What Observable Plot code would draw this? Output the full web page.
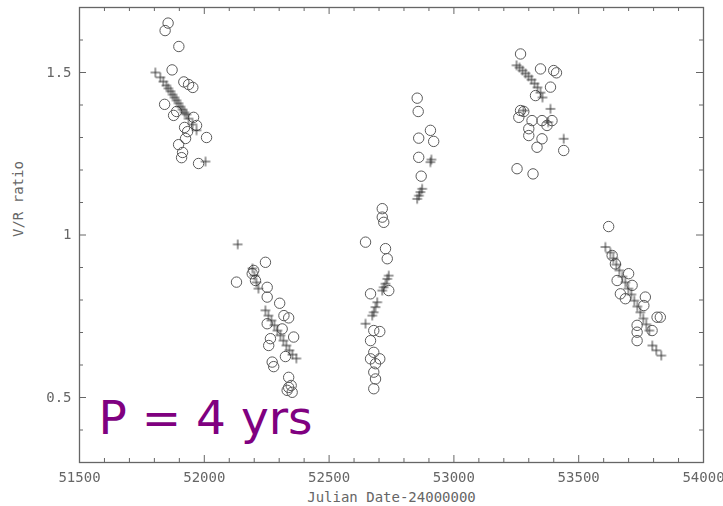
<!DOCTYPE html>
<html>
<head>
<meta charset="utf-8">
<script src="https://cdn.jsdelivr.net/npm/d3@7"></script>
<script src="https://cdn.jsdelivr.net/npm/@observablehq/plot@0.6"></script>
<style>
  body { margin: 0; background: #fff; }
  #chart svg { display: block; }
  #chart svg g[aria-label="dot"],
  #chart svg g[aria-label="rule"],
  #chart svg g[aria-label="frame"],
  #chart svg g[aria-label^="x-axis"],
  #chart svg g[aria-label^="y-axis"] { filter: blur(0.35px); }
</style>
</head>
<body>
<div id="chart"></div>
<script>
// V/R ratio measurements: open circles
const circleJD = [
  51855, 51843, 51898, 51871, 51918, 51954, 51937, 51841, 51877, 51889, 51957, 51921, 51969,
  51925, 52009, 51897, 51913, 51909, 51977, 51933,
  52245, 52129, 52198, 52192, 52205, 52252, 52252, 52302, 52319, 52338, 52252, 52312,
  52358, 52265, 52258, 52325, 52272, 52278, 52338, 52348, 52332, 52352, 52338,
  52853, 52857, 52906, 52859, 52919, 52859, 52869, 52713, 52713, 52719, 52646, 52726,
  52733, 52739, 52666, 52679, 52703, 52666, 52679, 52703, 52666, 52686, 52679, 52686, 52679,
  53267, 53347, 53400, 53411, 53387, 53327, 53267, 53280, 53260, 53313, 53353, 53393,
  53373, 53300, 53300, 53353, 53333, 53440, 53253, 53317,
  53620, 53634, 53647, 53700, 53654, 53714, 53667, 53767, 53687, 53761, 53814, 53827,
  53734, 53794, 53734, 53734
];
const circleVR = [
  1.652, 1.629, 1.580, 1.508, 1.471, 1.454, 1.463, 1.402, 1.368, 1.380, 1.362, 1.331, 1.337,
  1.297, 1.300, 1.278, 1.254, 1.238, 1.220, 1.318,
  0.916, 0.855, 0.891, 0.881, 0.860, 0.839, 0.809, 0.790, 0.752, 0.745, 0.727, 0.711,
  0.686, 0.681, 0.660, 0.626, 0.609, 0.595, 0.562, 0.537, 0.522, 0.516, 0.531,
  1.421, 1.380, 1.322, 1.298, 1.288, 1.239, 1.181, 1.081, 1.055, 1.039, 0.978, 0.958,
  0.927, 0.829, 0.819, 0.706, 0.703, 0.675, 0.639, 0.619, 0.619, 0.604, 0.578, 0.557, 0.527,
  1.557, 1.511, 1.506, 1.499, 1.455, 1.429, 1.383, 1.380, 1.362, 1.352, 1.352, 1.352,
  1.337, 1.327, 1.306, 1.296, 1.270, 1.260, 1.204, 1.188,
  1.026, 0.937, 0.911, 0.881, 0.860, 0.845, 0.819, 0.809, 0.804, 0.783, 0.747, 0.747,
  0.722, 0.706, 0.701, 0.675
];

// V/R ratio measurements: plus signs
const plusJD = [
  51804, 51824, 51836, 51848, 51856, 51865, 51873, 51881, 51889, 51897, 51905, 51913, 51921,
  51929, 51937, 51953, 51969, 52005,
  52134, 52193, 52201, 52209, 52217, 52245, 52257, 52269, 52281, 52293, 52305, 52317, 52329,
  52341, 52353, 52369,
  52906, 52910, 52873, 52866, 52860, 52853,
  52739, 52733, 52726, 52719, 52713, 52693, 52686, 52679, 52673, 52646,
  53251, 53263, 53275, 53287, 53299, 53311, 53323, 53335, 53347, 53355, 53387, 53440, 53279, 53378,
  53607, 53627, 53639, 53651, 53663, 53675, 53687, 53699, 53711, 53723, 53735, 53747, 53759,
  53771, 53783, 53795, 53811, 53831
];
const plusVR = [
  1.500, 1.485, 1.472, 1.460, 1.451, 1.442, 1.432, 1.423, 1.414, 1.405, 1.395, 1.386, 1.377,
  1.371, 1.358, 1.340, 1.322, 1.226,
  0.971, 0.897, 0.875, 0.854, 0.835, 0.768, 0.752, 0.737, 0.722, 0.706, 0.691, 0.675, 0.660,
  0.645, 0.632, 0.620,
  1.224, 1.232, 1.142, 1.132, 1.121, 1.111,
  0.875, 0.865, 0.850, 0.839, 0.829, 0.793, 0.778, 0.762, 0.752, 0.727,
  1.522, 1.515, 1.506, 1.497, 1.488, 1.478, 1.466, 1.454, 1.438, 1.423, 1.388, 1.296, 1.383, 1.347,
  0.963, 0.946, 0.928, 0.909, 0.891, 0.872, 0.854, 0.835, 0.817, 0.798, 0.780, 0.762, 0.743,
  0.725, 0.706, 0.660, 0.645, 0.629
];

// Axis ticks
const xTicks = [51500, 52000, 52500, 53000, 53500, 54000];
const yTicks = [0.5, 1, 1.5];
const xMinorTicks = d3.range(51500, 54001, 100).filter(v => v % 500 !== 0);
const yMinorTicks = d3.range(3, 18).map(v => v / 10).filter(v => !yTicks.includes(v));

const xLabel = "Julian Date-24000000";
const yLabel = "V/R ratio";
const periodNote = "P = 4 yrs";

const circles = circleJD.map((jd, i) => ({jd, vr: circleVR[i]}));
const pluses = plusJD.map((jd, i) => ({jd, vr: plusVR[i]}));

const W = 723, H = 506;
const mL = 79, mR = 20, mT = 7, mB = 44;
const innerW = W - mL - mR, innerH = H - mT - mB;
const major = 7, minor = 4;
const ink = "#666";
const mono = "DejaVu Sans Mono";

// Inward-pointing ticks: bottom and top edges for x, left and right edges for y
const xTickMarks = (values, len) => [
  Plot.ruleX(values, {x: d => d, insetTop: innerH - len, stroke: ink}),
  Plot.ruleX(values, {x: d => d, insetBottom: innerH - len, stroke: ink}),
];
const yTickMarks = (values, len) => [
  Plot.ruleY(values, {y: d => d, insetRight: innerW - len, stroke: ink}),
  Plot.ruleY(values, {y: d => d, insetLeft: innerW - len, stroke: ink}),
];

const chart = Plot.plot({
  width: W,
  height: H,
  marginLeft: mL,
  marginRight: mR,
  marginTop: mT,
  marginBottom: mB,
  style: {background: "#fff", fontFamily: mono, fontSize: "14px", color: ink},
  x: {domain: [51500, 54000]},
  y: {domain: [0.3, 1.7]},
  marks: [
    Plot.frame({stroke: ink, strokeWidth: 1.3}),
    ...xTickMarks(xTicks, major),
    ...xTickMarks(xMinorTicks, minor),
    ...yTickMarks(yTicks, major),
    ...yTickMarks(yMinorTicks, minor),
    Plot.axisX({ticks: xTicks, tickSize: 0, tickPadding: 10, tickFormat: d => String(d), label: null, fill: ink, fontFamily: mono, fontSize: 14}),
    Plot.axisY({ticks: yTicks, tickSize: 0, tickPadding: 8, tickFormat: d => String(d), label: null, fill: ink, fontFamily: mono, fontSize: 14}),
    Plot.text([xLabel], {frameAnchor: "bottom", lineAnchor: "middle", dy: 35, fill: ink, fontFamily: mono, fontSize: 14}),
    Plot.text([yLabel], {frameAnchor: "left", rotate: -90, lineAnchor: "middle", dx: -61, dy: 2, fill: ink, fontFamily: mono, fontSize: 14}),
    Plot.dot(circles, {x: "jd", y: "vr", r: 5.2, stroke: "#5a5a5a", strokeWidth: 1, fill: "none"}),
    Plot.dot(pluses, {x: "jd", y: "vr", symbol: "plus", r: 3.2, stroke: "#333", strokeWidth: 1}),
    Plot.text([periodNote], {frameAnchor: "bottom-left", textAnchor: "start", lineAnchor: "middle", dx: 19, dy: -44, fill: "#800080", fontFamily: "DejaVu Sans", fontSize: 47})
  ]
});

document.getElementById("chart").append(chart);
</script>
</body>
</html>
